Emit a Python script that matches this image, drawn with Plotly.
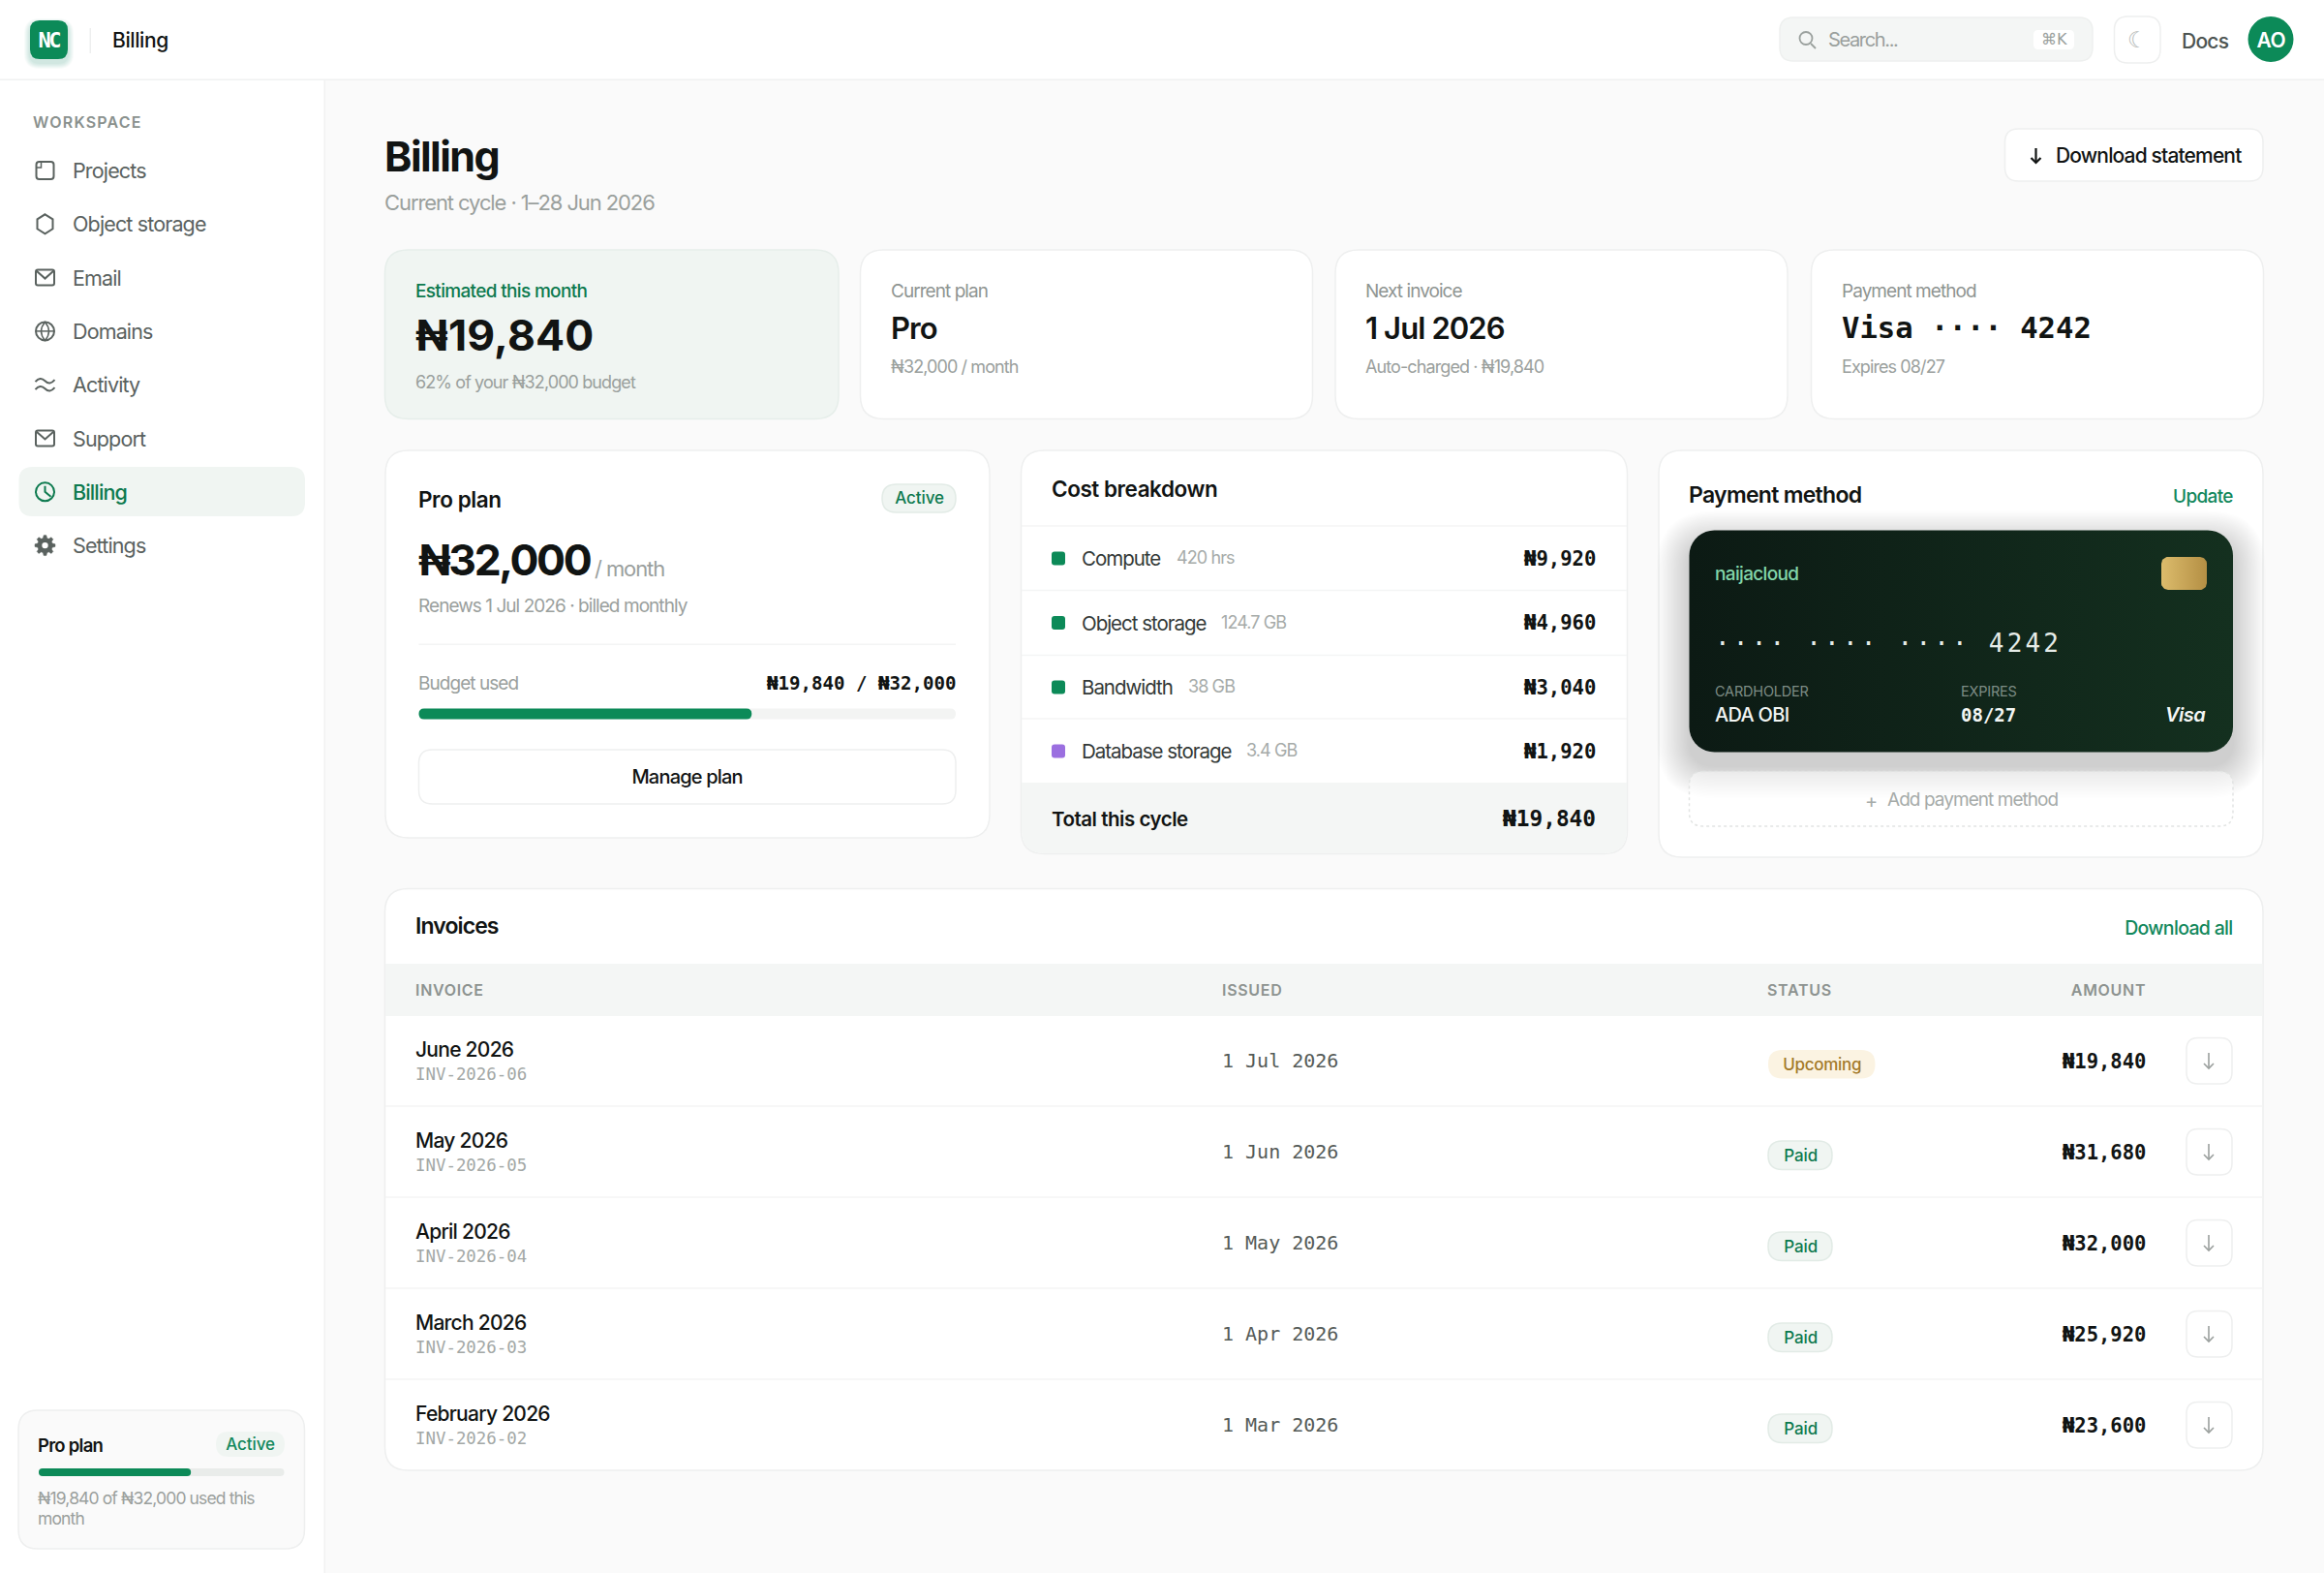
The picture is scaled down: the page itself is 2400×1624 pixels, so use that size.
import json
import numpy as np
import plotly.graph_objects as go

# Data
nav_items = ["Projects", "Object storage", "Email", "Domains", "Activity", "Support", "Billing", "Settings"]
nav_icons = ["folder", "hex", "mail", "globe", "wave", "mail", "clock", "gear"]

budget_total = 32000
budget_used = 19840

kpi_labels = ["Current plan", "Next invoice", "Payment method"]
kpi_values = ["Pro", "1 Jul 2026", "Visa ···· 4242"]
kpi_subs = ["₦32,000 / month", "Auto-charged · ₦19,840", "Expires 08/27"]

cost_names = ["Compute", "Object storage", "Bandwidth", "Database storage"]
cost_details = ["420 hrs", "124.7 GB", "38 GB", "3.4 GB"]
cost_values = [9920, 4960, 3040, 1920]

invoice_names = ["June 2026", "May 2026", "April 2026", "March 2026", "February 2026"]
invoice_ids = ["INV-2026-06", "INV-2026-05", "INV-2026-04", "INV-2026-03", "INV-2026-02"]
invoice_dates = ["1 Jul 2026", "1 Jun 2026", "1 May 2026", "1 Apr 2026", "1 Mar 2026"]
invoice_status = ["Upcoming", "Paid", "Paid", "Paid", "Paid"]
invoice_amounts = [19840, 31680, 32000, 25920, 23600]

SANS = "Inter"
MONO = "DejaVu Sans Mono"
GREEN = "#0c8a58"
DARK_GREEN = "#0d7a4f"
LINK_GREEN = "#12885c"
PALE_GREEN = "#f0f5f2"
INK = "#111413"
GREY = "#9aa09d"
BORDER = "#eeefef"

# default tracking in em for the sans text, by weight
TRACK = {400: -0.05, 500: -0.035, 600: -0.025, 700: -0.035}

shapes = []
notes = []
tracks = []


def naira(v):
    return f"₦{v:,}"


def rr_path(x0, y0, x1, y1, r, bottom_only=False):
    rt = 0 if bottom_only else r
    return (f"M{x0 + rt},{y0} L{x1 - rt},{y0} Q{x1},{y0} {x1},{y0 + rt} L{x1},{y1 - r} "
            f"Q{x1},{y1} {x1 - r},{y1} L{x0 + r},{y1} Q{x0},{y1} {x0},{y1 - r} L{x0},{y0 + rt} "
            f"Q{x0},{y0} {x0 + rt},{y0} Z")


def box(x0, y0, x1, y1, r=0, fill="white", line=None, width=1.5, dash=None, bottom_only=False):
    shapes.append(dict(type="path", path=rr_path(x0, y0, x1, y1, r, bottom_only), xref="x", yref="y",
                       fillcolor=fill, layer="below",
                       line=dict(color=line or "rgba(0,0,0,0)", width=width if line else 0, dash=dash)))


def stroke(path, color, width=2, fill="rgba(0,0,0,0)"):
    shapes.append(dict(type="path", path=path, xref="x", yref="y", fillcolor=fill, layer="below",
                       line=dict(color=color, width=width)))


def ring(cx, cy, r, color, width=2, fill="rgba(0,0,0,0)"):
    shapes.append(dict(type="circle", xref="x", yref="y", x0=cx - r, x1=cx + r, y0=cy - r, y1=cy + r,
                       fillcolor=fill, layer="below", line=dict(color=color, width=width)))


def text(x, y, s, size, color=INK, weight=400, family=SANS, anchor="left", style="normal", ls=None):
    # annotations sit a little inside their anchor, pull them back out
    if anchor == "left":
        x -= 1.8
    elif anchor == "right":
        x += 0.6
    if ls is None:
        ls = TRACK[weight] * size if family == SANS else 0
    tracks.append(ls)
    notes.append(dict(x=x, y=y, xref="x", yref="y", text=s, showarrow=False, xanchor=anchor, yanchor="middle",
                      align=anchor, borderpad=0,
                      font=dict(family=family, size=size, color=color, weight=weight, style=style)))


def shadow(x0, y0, x1, y1, r, rgb, layers, spread, dy, alpha):
    for i in range(layers):
        e = spread * (1 - i / layers)
        box(x0 - e, y0 - e + dy, x1 + e, y1 + e + dy, r + e, fill=f"rgba({rgb},{alpha})")


def gradient_box(x0, y0, x1, y1, r, c0, c1):
    t = np.linspace(0, np.pi / 2, 10)
    xs = np.concatenate([x1 - r + r * np.sin(t), x1 - r + r * np.cos(t), x0 + r - r * np.sin(t), x0 + r - r * np.cos(t)])
    ys = np.concatenate([y0 + r - r * np.cos(t), y1 - r + r * np.sin(t), y1 - r + r * np.cos(t), y0 + r - r * np.sin(t)])
    return go.Scatter(x=np.append(xs, xs[0]), y=np.append(ys, ys[0]), mode="lines", line=dict(width=0),
                      fill="toself", hoverinfo="skip",
                      fillgradient=dict(type="horizontal", colorscale=[[0, c0], [1, c1]]))


def icon(name, cx, cy, color):
    if name == "folder":
        stroke(rr_path(cx - 9, cy - 9, cx + 9, cy + 9, 3), color)
        stroke(f"M{cx - 4},{cy - 9} L{cx - 4},{cy - 3} L{cx - 9},{cy - 3}", color, 1.5)
    elif name == "hex":
        stroke(f"M{cx},{cy - 10} L{cx + 8},{cy - 5} L{cx + 8},{cy + 5} L{cx},{cy + 10} L{cx - 8},{cy + 5} L{cx - 8},{cy - 5} Z", color)
    elif name == "mail":
        stroke(rr_path(cx - 9.5, cy - 8, cx + 9.5, cy + 8, 2), color)
        stroke(f"M{cx - 9},{cy - 7} L{cx},{cy + 1} L{cx + 9},{cy - 7}", color)
    elif name == "globe":
        ring(cx, cy, 9.5, color)
        stroke(f"M{cx - 9},{cy} L{cx + 9},{cy}", color, 1.5)
        stroke(f"M{cx},{cy - 9.5} Q{cx - 8},{cy} {cx},{cy + 9.5} Q{cx + 8},{cy} {cx},{cy - 9.5} Z", color, 1.5)
    elif name == "wave":
        for dy in (-4, 4):
            stroke(f"M{cx - 10},{cy + dy + 1} Q{cx - 5},{cy + dy - 5} {cx},{cy + dy} Q{cx + 5},{cy + dy + 5} {cx + 10},{cy + dy - 1}", color)
    elif name == "clock":
        ring(cx, cy, 9.5, color)
        stroke(f"M{cx},{cy - 6} L{cx},{cy} L{cx + 6},{cy + 5}", color)
    elif name == "gear":
        a = np.linspace(0, 2 * np.pi, 48, endpoint=False)
        rad = np.where((a * 8 / (2 * np.pi) + 0.25) % 1 < 0.5, 10.5, 7.8)
        pts = [f"{cx + q * np.cos(p):.2f},{cy + q * np.sin(p):.2f}" for p, q in zip(a, rad)]
        stroke("M" + " L".join(pts) + " Z", color, 0.5, fill=color)
        ring(cx, cy, 3.2, "white", 0, fill="white")


def arrow(cx, y0, y1, color, width=2, head=5):
    stroke(f"M{cx},{y0} L{cx},{y1}", color, width)
    stroke(f"M{cx - head},{y1 - head} L{cx},{y1} L{cx + head},{y1 - head}", color, width)


# Page frame
box(0, 0, 336, 1624, fill="white")
box(334.5, 82, 336, 1624, fill="#f1f2f2")
box(0, 0, 2400, 82, fill="white")
box(0, 81.5, 2400, 83, fill="#f0f1f1")

# Top bar
shadow(31, 21, 70, 61, 10, "12,138,88", 6, 6, 4, 0.03)
box(31, 21, 70, 61, 10, fill=GREEN)
text(50.5, 41, "NC", 22, "white", 700, MONO, "center", ls=-2.5)
box(92.5, 29, 94, 55, fill="#eeefef")
text(116.5, 41.5, "Billing", 21, INK, 500, ls=-0.4)

box(1838, 18, 2161, 63, 14, fill="#f4f6f5", line="#eef0ef")
ring(1865, 39.5, 6.5, "#9aa09d", 1.8)
stroke("M1870,45 L1875,50", "#9aa09d", 1.8)
text(1889, 41, "Search...", 20, GREY, ls=-1.35)
box(2100, 31, 2142, 51, 5, fill="white")
text(2121, 40.5, "⌘K", 16, GREY, 400, "DejaVu Sans", "center")
box(2183.5, 17, 2231, 65, 14, fill="white", line=BORDER)
text(2207, 41, "☾", 23, "#b5b9b7", 400, "DejaVu Sans", "center")
text(2253.5, 42, "Docs", 21, "#4d5552", 500)
ring(2345, 40.5, 23.5, GREEN, 0, fill=GREEN)
text(2345, 41, "AO", 21, "white", 600, SANS, "center")

# Sidebar
text(34.5, 126, "WORKSPACE", 16, "#8a918e", 600, ls=1.2)
box(19.5, 482, 315, 533, 14, fill=PALE_GREEN)
for i, (item, ic) in enumerate(zip(nav_items, nav_icons)):
    y = 176 + i * 55.3
    col = DARK_GREEN if item == "Billing" else "#5a625f"
    icon(ic, 46.5, y, col)
    text(76, y, item, 21.5, col, 500 if item == "Billing" else 400, ls=-0.86)

box(19, 1456, 314.5, 1599, 20, fill="#fafafa", line=BORDER)
text(40, 1492, "Pro plan", 18.5, INK, 600, ls=-0.75)
box(223, 1478, 294, 1504, 13, fill=PALE_GREEN)
text(258.5, 1491, "Active", 17, LINK_GREEN, 500, SANS, "center", ls=-0.1)
box(40, 1516, 293.5, 1524, 4, fill="#e9ecea")
box(40, 1516, 40 + 253.5 * budget_used / budget_total, 1524, 4, fill=GREEN)
text(40, 1546, f"{naira(budget_used)} of {naira(budget_total)} used this", 17.5, GREY)
text(40, 1567, "month", 17.5, GREY)

# Heading
text(397.5, 161, "Billing", 43, INK, 700, ls=-1.55)
text(397.5, 209, "Current cycle · 1–28 Jun 2026", 22, GREY)
box(2070.5, 133, 2337, 187, 14, fill="white", line=BORDER)
arrow(2102.5, 153, 168, INK, 2.2)
text(2124, 160.5, "Download statement", 21, INK, 500, ls=-0.85)

# KPI cards
kpi_left = [397.5, 888.5, 1379, 1870.5]
box(397.5, 258, 866, 432.5, 24, fill=PALE_GREEN, line="#e6eeea")
text(430, 300, "Estimated this month", 19, DARK_GREEN, 500)
text(430, 346, naira(budget_used), 44.5, INK, 700, ls=0.2)
text(430, 394, f"{round(100 * budget_used / budget_total)}% of your {naira(budget_total)} budget", 18, GREY)
for i in range(3):
    x = kpi_left[i + 1]
    box(x, 258, x + 467, 432.5, 24, fill="white", line=BORDER)
    text(x + 32, 300, kpi_labels[i], 19, "#8f9592")
    if i == 2:
        text(x + 32, 338, kpi_values[i], 30.6, INK, 700, MONO)
    else:
        text(x + 32, 338, kpi_values[i], 31, INK, 600, ls=-0.9)
    text(x + 32, 378, kpi_subs[i], 18, GREY)

# Pro plan card
box(398, 465, 1022, 865, 24, fill="white", line=BORDER)
text(432.5, 515.5, "Pro plan", 22.5, INK, 600, ls=-0.4)
box(911, 500, 987, 529, 14.5, fill=PALE_GREEN, line="#e2ebe6")
text(949.5, 514, "Active", 17, DARK_GREEN, 500, SANS, "center", ls=-0.1)
text(432.5, 577.5, naira(budget_total), 44.5, INK, 700, ls=-2.4)
text(615, 586.5, "/ month", 22, GREY)
text(432.5, 625.5, "Renews 1 Jul 2026 · billed monthly", 19, GREY)
box(432.5, 664.5, 987, 666, fill="#f3f4f4")
text(432.5, 705.5, "Budget used", 19, GREY)
text(987, 705.5, f"{naira(budget_used)} / {naira(budget_total)}", 19.1, INK, 700, MONO, "right")
box(432.5, 731.5, 987, 742.5, 5.5, fill="#f3f4f3")
box(432.5, 731.5, 432.5 + 554.5 * budget_used / budget_total, 742.5, 5.5, fill=GREEN)
box(432.5, 774, 987, 830, 14, fill="white", line=BORDER)
text(709.5, 802, "Manage plan", 20, INK, 500, SANS, "center", ls=-0.8)

# Cost breakdown card
box(1054.5, 465, 1680.5, 881.5, 24, fill="white", line=BORDER)
box(1055, 808, 1680, 881, 24, fill="#f4f6f5", bottom_only=True)
text(1087, 504, "Cost breakdown", 22.5, INK, 600, ls=-0.45)
row_lines = [543, 609.5, 676.5, 742]
cost_y = [576.5, 643, 709.5, 775.5]
detail_x = [1215.5, 1262, 1228, 1288]
for i, name in enumerate(cost_names):
    box(1055, row_lines[i] - 0.75, 1680, row_lines[i] + 0.75, fill="#f4f5f5")
    y = cost_y[i]
    box(1086, y - 7, 1100, y + 7, 3, fill="#9b6fe0" if name == "Database storage" else GREEN)
    text(1118, y, name, 20.5, "#333937")
    text(detail_x[i], y - 1, cost_details[i], 18, "#a6aba9")
    text(1648, y, naira(cost_values[i]), 20.6, INK, 700, MONO, "right")
text(1087, 845, "Total this cycle", 20.5, INK, 600, ls=-0.48)
text(1648, 845, naira(sum(cost_values)), 22.8, INK, 700, MONO, "right")

# Payment method card
box(1713, 465, 2337, 885, 24, fill="white", line=BORDER)
text(1744.5, 511, "Payment method", 23, INK, 600, ls=-0.7)
text(2306, 512, "Update", 19, LINK_GREEN, 500, SANS, "right")
shadow(1744.5, 547.5, 2306, 776.5, 26, "10,25,18", 24, 34, 14, 0.0065)
box(1744.5, 796.5, 2306, 853, 14, fill="rgba(255,255,255,0.5)", line="#e2e4e3", width=1.5, dash="dot")
text(1932.5, 827, "+", 20, "#a6aba9", 400, SANS, "center", ls=0)
text(1950, 825.5, "Add payment method", 19, "#a6aba9")
text(1771.5, 592, "naijacloud", 19, "#83d6aa", 500)
text(1771.5, 664, "···· ···· ···· 4242", 26, "#e6ece8", 400, MONO, ls=3.2)
text(1771.5, 713, "CARDHOLDER", 14.5, "#7d8c85", 400, ls=-0.2)
text(1771.5, 737.5, "ADA OBI", 20, "#f2f5f3", 500)
text(2025.5, 713, "EXPIRES", 14.5, "#7d8c85", 400, ls=-0.2)
text(2025.5, 737.5, "08/27", 19, "#f2f5f3", 700, MONO)
text(2278.5, 737.5, "Visa", 20, "#f5f7f6", 600, SANS, "right", "italic")

# Invoices table
box(397.5, 917.5, 2337, 1518, 24, fill="white", line=BORDER)
text(430, 956, "Invoices", 23, INK, 600, ls=-0.9)
text(2306, 957.5, "Download all", 19.5, LINK_GREEN, 500, SANS, "right")
box(398, 995, 2336.5, 1049, fill="#f4f6f5")
text(430, 1021.5, "INVOICE", 16, "#8d9390", 600, ls=0.7)
text(1263, 1021.5, "ISSUED", 16, "#8d9390", 600, ls=0.7)
text(1826, 1021.5, "STATUS", 16, "#8d9390", 600, ls=0.7)
text(2216, 1021.5, "AMOUNT", 16, "#8d9390", 600, SANS, "right", ls=0.7)
for i, name in enumerate(invoice_names):
    y = 1095 + i * 94
    if i:
        box(398, y - 47.75, 2336.5, y - 46.25, fill="#f4f5f5")
    text(430, y - 11.5, name, 21, INK, 500)
    text(430, y + 14, invoice_ids[i], 17.4, "#a3a8a6", 400, MONO)
    text(1263, y, invoice_dates[i], 20, "#555b58", 400, MONO)
    if invoice_status[i] == "Upcoming":
        box(1826, y - 11, 1936.5, y + 18.5, 14.5, fill="#fbf3e2")
        text(1881, y + 3.5, invoice_status[i], 17, "#a37a2a", 500, SANS, "center", ls=-0.3)
    else:
        box(1826, y - 11, 1892, y + 18.5, 14.5, fill=PALE_GREEN, line="#e2ebe6")
        text(1859, y + 3.5, invoice_status[i], 17, DARK_GREEN, 500, SANS, "center", ls=-0.1)
    text(2216, y + 0.5, naira(invoice_amounts[i]), 20.5, INK, 700, MONO, "right")
    box(2258, y - 23.5, 2305, y + 24, 12, fill="white", line=BORDER)
    arrow(2281, y - 8, y + 8, "#9a9f9d", 1.6, 5)

fig = go.Figure()
fig.add_trace(gradient_box(1744.5, 547.5, 2306, 776.5, 26, "#0c1a14", "#14301f"))
fig.add_trace(gradient_box(2232, 575, 2279, 609, 7, "#dcbc6c", "#b48f44"))

fig.update_layout(
    width=2400, height=1624, margin=dict(l=0, r=0, t=0, b=0),
    paper_bgcolor="#fafafa", plot_bgcolor="#fafafa", showlegend=False, hovermode=False,
    xaxis=dict(range=[0, 2400], visible=False, fixedrange=True),
    yaxis=dict(range=[1624, 0], visible=False, fixedrange=True),
    shapes=shapes, annotations=notes,
)

# plotly has no letter spacing, so tracking is set on the drawn annotations in the page
post = ("document.documentElement.style.overflow='hidden';document.body.style.margin='0';"
        f"var tr={json.dumps(tracks)};"
        "document.querySelectorAll('.annotation').forEach(function(a){"
        "var t=a.querySelector('.annotation-text');"
        "t.style.letterSpacing=tr[+a.getAttribute('data-index')]+'px';});")

fig.write_html("out.html", post_script=post, config={"displayModeBar": False})
